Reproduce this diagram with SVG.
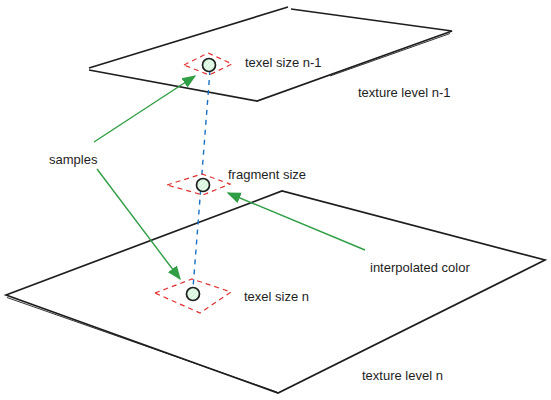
<svg xmlns="http://www.w3.org/2000/svg" width="551" height="400" viewBox="0 0 551 400">
<style>
.plane{fill:none;stroke:#1e1e1e;stroke-width:1.7;stroke-linejoin:miter}
.plane2{fill:none;stroke:#1e1e1e;stroke-width:0.9}
.cell{fill:none;stroke:#e03131;stroke-width:1.2;stroke-dasharray:5 4}
.dot{fill:url(#hatch);stroke:#1e1e1e;stroke-width:1.7}
.lbl{font-family:"Liberation Sans",Arial,sans-serif;font-size:13px;fill:#1e1e1e}
.arrow{fill:none;stroke:#2f9e44;stroke-width:1.4}
.dash{fill:none;stroke:#1971c2;stroke-width:1.4;stroke-dasharray:5 5}
</style>
<defs>
<pattern id="hatch" width="3" height="3" patternUnits="userSpaceOnUse" patternTransform="rotate(45)">
<rect width="3" height="3" fill="#ebfbee"/>
<line x1="0" y1="0" x2="0" y2="3" stroke="#8ce99a" stroke-width="0.8"/>
</pattern>
<marker id="ahb" viewBox="0 0 10 10" refX="9" refY="5" markerWidth="14" markerHeight="14" markerUnits="userSpaceOnUse" orient="auto">
<path d="M0,1 L10,5 L0,9 Z" fill="#2f9e44"/>
</marker>
</defs>

<g id="plane-n">
<path class="plane" d="M6,295 L282,191 L545,260 L278,393 Z"/>
<path class="plane2" d="M7,297.5 L277,392"/>
<text class="lbl" x="362" y="380">texture level n</text>
</g>

<g id="plane-n-1">
<path class="plane" d="M89,68 L288,7 M291,9 L452,31 L257,101 L89,70"/>
<path class="plane2" d="M450,33.5 L330,76"/>
<text class="lbl" x="358" y="97">texture level n-1</text>
</g>

<g id="connectors">
<path class="dash" d="M210,70 L193,288"/>
<path class="arrow" d="M94,142 L195,76" marker-end="url(#ahb)"/>
<path class="arrow" d="M97,169 L180,279" marker-end="url(#ahb)"/>
<path class="arrow" d="M365,250 L228,193" marker-end="url(#ahb)"/>
</g>

<g id="texel-n-1">
<path class="cell" d="M184,65 L208,53 L232,64 L209,75 Z"/>
<circle class="dot" cx="209" cy="65" r="6.5"/>
<text class="lbl" x="245" y="67">texel size n-1</text>
</g>

<g id="fragment">
<path class="cell" d="M167,185 L202,174 L230,184 L203,195 Z"/>
<circle class="dot" cx="203" cy="185" r="6.5"/>
<text class="lbl" x="228" y="179">fragment size</text>
</g>

<g id="texel-n">
<path class="cell" d="M155,293 L192,279 L231,292 L200,313 Z"/>
<circle class="dot" cx="193" cy="294" r="6.5"/>
<text class="lbl" x="244" y="301">texel size n</text>
</g>

<g id="samples">
<text class="lbl" x="49" y="164">samples</text>
</g>

<g id="interp">
<text class="lbl" x="370" y="272">interpolated color</text>
</g>
</svg>
